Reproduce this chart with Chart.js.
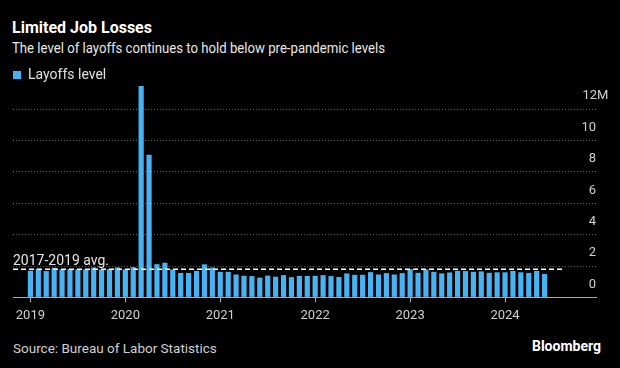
<!DOCTYPE html>
<html>
<head>
<meta charset="utf-8">
<script src="https://cdn.jsdelivr.net/npm/chart.js@4.4.1/dist/chart.umd.min.js"></script>
<style>
  body { margin: 0; background: #000; }
  #wrap { position: relative; width: 620px; height: 368px; background: #000; overflow: hidden; font-family: Roboto, 'Liberation Sans', sans-serif; line-height: 1; }
  .title { position: absolute; left: 12px; top: 20px; color: #fff; font-weight: bold; font-size: 16px; }
  .subtitle { position: absolute; left: 12px; top: 41px; color: #e8e8e8; font-size: 14px; white-space: nowrap; transform: scaleX(0.94); transform-origin: 0 0; }
  .source { position: absolute; left: 13px; top: 342px; color: #cfcfcf; font-size: 13.5px; }
  .brand { position: absolute; right: 19px; top: 339px; color: #fff; font-weight: bold; font-size: 14px; }
  #chartBox { position: absolute; left: 0; top: 68px; width: 620px; height: 262px; }
</style>
</head>
<body>
<div id="wrap">
  <div class="title">Limited Job Losses</div>
  <div class="subtitle">The level of layoffs continues to hold below pre-pandemic levels</div>
  <div id="chartBox"><canvas id="layoffs-chart"></canvas></div>
  <div class="source">Source: Bureau of Labor Statistics</div>
  <div class="brand">Bloomberg</div>
</div>
<script>
// monthly JOLTS layoffs, millions, Jan 2019 - Jun 2024
const startYear = 2019;
const layoffs = [
  1.70, 1.83, 1.68, 1.89, 1.78, 1.80, 1.78, 1.78, 1.91, 1.78, 1.80, 1.91,
  1.78, 1.93, 13.48, 9.09, 2.12, 2.21, 1.78, 1.56, 1.56, 1.69, 2.11, 1.90,
  1.63, 1.63, 1.46, 1.38, 1.36, 1.26, 1.39, 1.32, 1.42, 1.29, 1.37, 1.37,
  1.38, 1.42, 1.36, 1.30, 1.53, 1.44, 1.44, 1.61, 1.46, 1.55, 1.46, 1.55,
  1.80, 1.57, 1.78, 1.63, 1.53, 1.59, 1.70, 1.68, 1.63, 1.66, 1.57, 1.60,
  1.60, 1.69, 1.60, 1.56, 1.69, 1.49
];
const months = layoffs.map((v, i) => `${startYear + Math.floor(i / 12)}-${String(i % 12 + 1).padStart(2, '0')}`);
const yearTicks = [2019, 2020, 2021, 2022, 2023, 2024];
const yTicks = [0, 2, 4, 6, 8, 10, 12];
const avgLevel = 1.8;
const avgLabel = '2017-2019 avg.';

const barColor = '#48b3f3';
const fontFamily = 'Roboto, "Liberation Sans", sans-serif';
const xMin = -2.2;
const xMax = 71.5;
const avgEnd = months.length + 1.3;
const topTick = yTicks[yTicks.length - 1];

// avg label above the dashed line, and the top tick with its unit hanging past the digits
const labelsPlugin = {
  id: 'extraLabels',
  afterDatasetsDraw(chart) {
    const { ctx, chartArea, scales } = chart;
    const yPos = scales.y.getPixelForValue(avgLevel);
    ctx.save();
    ctx.font = `14px ${fontFamily}`;
    ctx.fillStyle = '#e6e6e6';
    ctx.textBaseline = 'alphabetic';
    ctx.fillText(avgLabel, chartArea.left, yPos - 4);

    ctx.font = `13px ${fontFamily}`;
    ctx.fillStyle = '#d0d0d0';
    ctx.textBaseline = 'middle';
    ctx.textAlign = 'left';
    const digits = String(topTick);
    const x = chartArea.right + 1 - ctx.measureText(digits).width;
    ctx.fillText(digits + 'M', x, scales.y.getPixelForValue(topTick) - 13);
    ctx.restore();
  }
};

const ctx = document.getElementById('layoffs-chart').getContext('2d');
const chart = new Chart(ctx, {
  type: 'bar',
  data: {
    datasets: [
      {
        type: 'line',
        label: avgLabel,
        data: [{ x: xMin, y: avgLevel }, { x: avgEnd, y: avgLevel }],
        borderColor: '#ffffff',
        borderWidth: 1.6,
        borderDash: [5, 3],
        pointRadius: 0,
        order: 1
      },
      {
        label: 'Layoffs level',
        data: layoffs.map((v, i) => ({ x: i, y: v, month: months[i] })),
        backgroundColor: barColor,
        borderWidth: 0,
        barPercentage: 0.82,
        categoryPercentage: 0.8,
        clip: false,
        order: 2
      }
    ]
  },
  options: {
    responsive: true,
    maintainAspectRatio: false,
    animation: false,
    layout: { padding: { left: 13, right: 24, top: 0, bottom: 0 } },
    plugins: {
      tooltip: { enabled: false },
      legend: {
        position: 'top',
        align: 'start',
        labels: {
          filter: item => item.text === 'Layoffs level',
          boxWidth: 8,
          boxHeight: 8,
          padding: 0,
          color: '#e0e0e0',
          font: { family: fontFamily, size: 14 }
        }
      }
    },
    scales: {
      x: {
        type: 'linear',
        offset: false,
        min: xMin,
        max: xMax,
        afterBuildTicks: axis => {
          axis.ticks = yearTicks.map(y => ({ value: (y - startYear) * 12 }));
        },
        ticks: {
          autoSkip: false,
          maxRotation: 0,
          padding: 6,
          color: '#d0d0d0',
          font: { family: fontFamily, size: 13 },
          callback: v => String(startYear + v / 12)
        },
        grid: {
          offset: false,
          drawOnChartArea: false,
          drawTicks: true,
          tickLength: 5,
          tickColor: '#a8a8a8'
        },
        border: { display: true, color: '#a8a8a8', width: 1 }
      },
      y: {
        position: 'right',
        min: 0,
        max: 13.1,
        afterBuildTicks: axis => {
          axis.ticks = yTicks.map(v => ({ value: v }));
        },
        ticks: {
          mirror: true,
          padding: 0,
          labelOffset: -13,
          color: '#d0d0d0',
          font: { family: fontFamily, size: 13 },
          // top tick is written by the plugin so its "M" can hang to the right
          callback: v => (v === topTick ? '' : String(v))
        },
        grid: {
          drawTicks: false,
          color: c => (c.tick && c.tick.value === 0 ? 'rgba(0,0,0,0)' : '#5a5a5a'),
          lineWidth: 1
        },
        border: { display: false, dash: [1, 2] }
      }
    }
  },
  plugins: [labelsPlugin]
});
</script>
</body>
</html>
